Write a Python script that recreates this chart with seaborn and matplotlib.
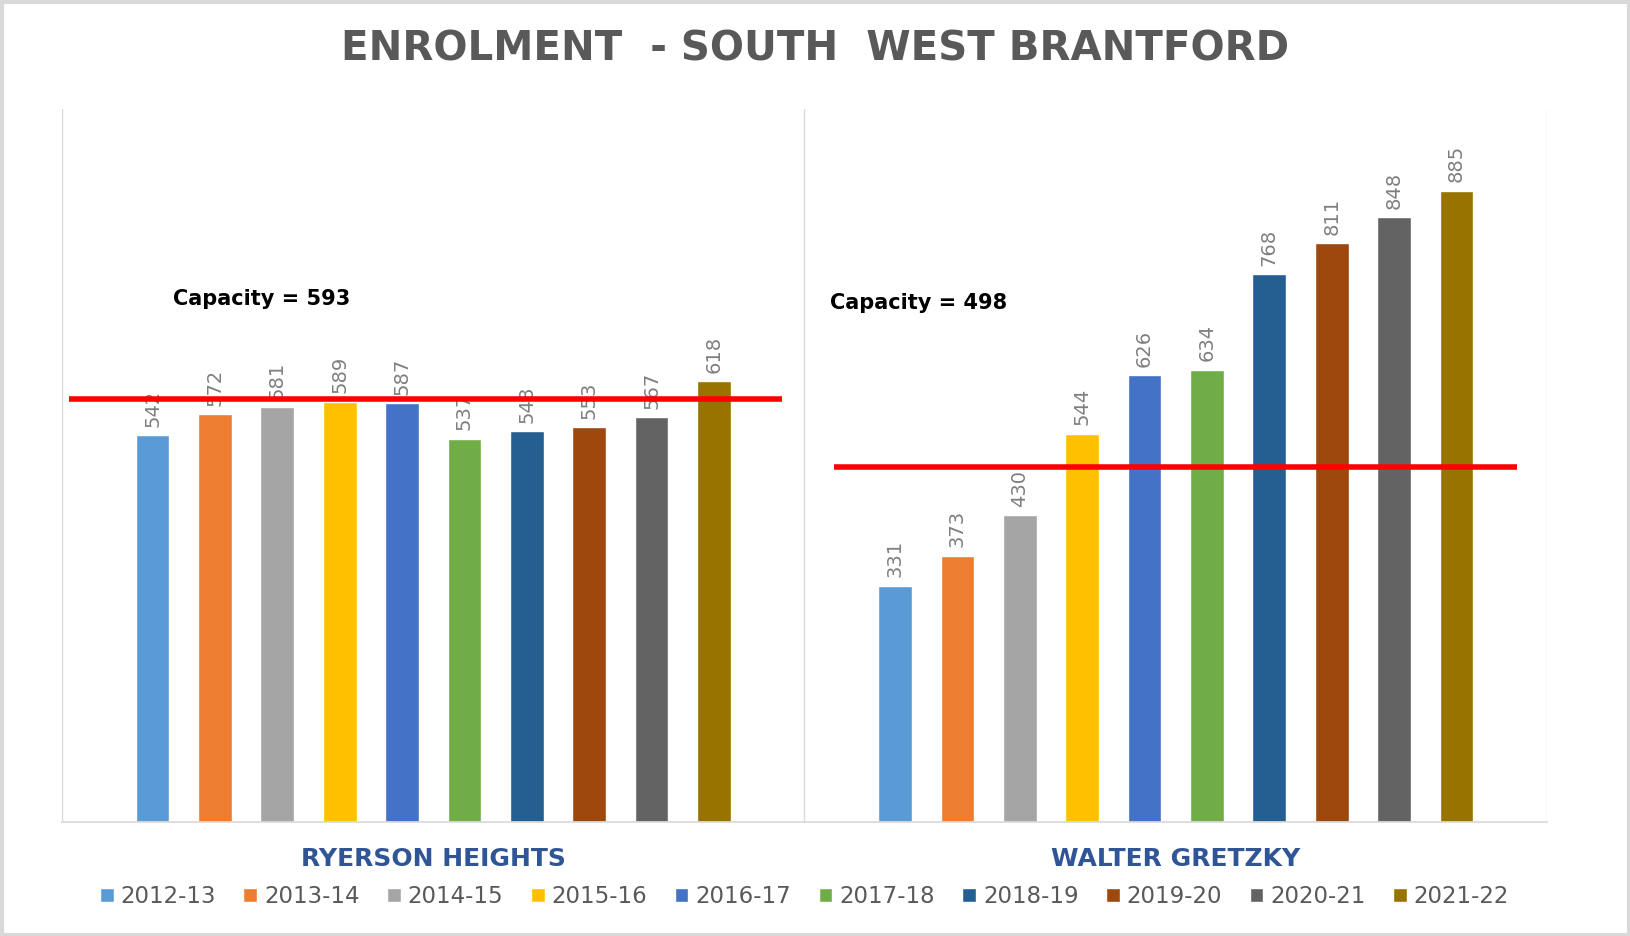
import numpy as np
import pandas as pd
import matplotlib
matplotlib.use("Agg")
import matplotlib.pyplot as plt
from matplotlib.patches import Rectangle
import seaborn as sns

sns.set_theme(style="white")
plt.rcParams['font.family'] = ['DejaVu Sans']

schools = ["RYERSON HEIGHTS", "WALTER GRETZKY"]
years = ["2012-13", "2013-14", "2014-15", "2015-16", "2016-17",
         "2017-18", "2018-19", "2019-20", "2020-21", "2021-22"]
ryerson = [542, 572, 581, 589, 587, 537, 548, 553, 567, 618]
gretzky = [331, 373, 430, 544, 626, 634, 768, 811, 848, 885]
capacity = [593, 498]
colors = ["#5B9BD5", "#ED7D31", "#A5A5A5", "#FFC000", "#4472C4",
          "#70AD47", "#255E91", "#9E480E", "#636363", "#997300"]

df = pd.DataFrame({
    "school": np.repeat(schools, len(years)),
    "year": years * 2,
    "enrolment": ryerson + gretzky,
})

fig = plt.figure(figsize=(16.31, 9.36), dpi=100)
ax = fig.add_axes([0.038, 0.122, 0.9105, 0.762])

sns.barplot(data=df, x="school", y="enrolment", hue="year", palette=colors,
            width=0.84, gap=0.46, ax=ax, saturation=1, legend=True)

for c in ax.containers:
    ax.bar_label(c, rotation=90, padding=6, color="#7F7F7F", fontsize=14)

# capacity lines + labels (hand-placed in the original)
line_span = [(-0.49, 0.47), (0.54, 1.46)]
text_pos = [(-0.35, 733), (0.535, 728)]
for i, cap in enumerate(capacity):
    ax.plot([line_span[i][0], line_span[i][1]], [cap, cap], color="#FF0000", lw=4,
            zorder=5, solid_capstyle="butt")
    ax.text(text_pos[i][0], text_pos[i][1], f"Capacity = {cap}", fontsize=15,
            fontweight="bold", color="black", ha="left", va="center")

ax.set_ylim(0, 1000)
ax.set_xlim(-0.5, 1.5)
ax.set_yticks([])
ax.set_xlabel("")
ax.set_ylabel("")
for x in [-0.5, 0.5, 1.5]:
    ax.axvline(x, color="#D9D9D9", lw=1, zorder=0)
for s in ["top", "left", "right"]:
    ax.spines[s].set_visible(False)
ax.spines["bottom"].set_color("#D9D9D9")
ax.tick_params(axis="x", length=0, pad=18)
for lbl in ax.get_xticklabels():
    lbl.set_color("#2F5597")
    lbl.set_fontweight("bold")
    lbl.set_fontsize(18)

leg = ax.legend(loc="upper center", bbox_to_anchor=(0.5, -0.06), ncol=10,
                frameon=False, fontsize=16.5, handlelength=0.6, handleheight=0.6,
                handletextpad=0.3, columnspacing=1.2, labelcolor="#595959")

fig.suptitle("ENROLMENT  - SOUTH  WEST BRANTFORD", y=0.947, va="center",
             fontsize=29, fontweight="bold", color="#595959")

fig.patches.append(Rectangle((0.001, 0.001), 0.998, 0.997, transform=fig.transFigure,
                             fill=False, edgecolor="#D9D9D9", lw=3))

fig.savefig("out.png", dpi=100)
